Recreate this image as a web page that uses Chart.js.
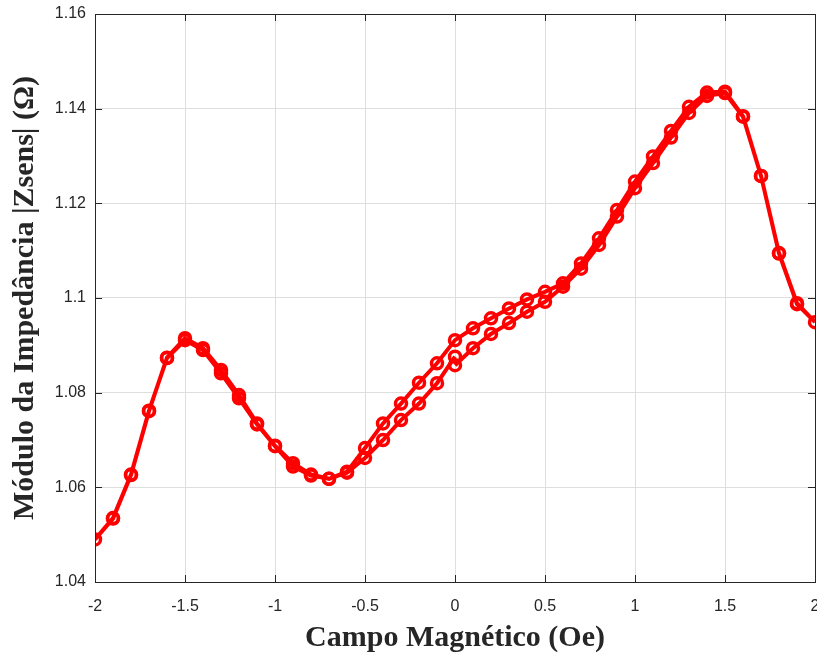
<!DOCTYPE html>
<html>
<head>
<meta charset="utf-8">
<script src="https://cdn.jsdelivr.net/npm/chart.js@4"></script>
<style>
  html, body { margin: 0; padding: 0; background: #fff; }
  #wrap { width: 817px; height: 656px; }
</style>
</head>
<body>
<div id="wrap"><canvas id="gmi" width="817" height="656"></canvas></div>
<script>
/* GMI curve — |Zsens| vs field, one full loop 0 -> 2 -> -2 -> 0 */

// sweep 1: 0 -> 2 Oe
const fieldUp = [0, 0.1, 0.2, 0.3, 0.4, 0.5, 0.6, 0.7, 0.8, 0.9, 1, 1.1, 1.2, 1.3, 1.4, 1.5, 1.6, 1.7, 1.8, 1.9, 2];
const zUp = [1.0858, 1.0894, 1.0924, 1.0947, 1.0971, 1.0992, 1.1024, 1.1062, 1.1112, 1.1172, 1.1232,
  1.1285, 1.1339, 1.1391, 1.1427, 1.1433, 1.1383, 1.1258, 1.1094, 1.0987, 1.0949];

// sweep 2: 2 -> -2 Oe
const fieldDown = [1.9, 1.8, 1.7, 1.6, 1.5, 1.4, 1.3, 1.2, 1.1, 1, 0.9, 0.8, 0.7, 0.6, 0.5, 0.4, 0.3, 0.2, 0.1, 0,
  -0.1, -0.2, -0.3, -0.4, -0.5, -0.6, -0.7, -0.8, -0.9, -1, -1.1, -1.2, -1.3, -1.4, -1.5, -1.6, -1.7, -1.8, -1.9, -2];
const zDown = [1.0989, 1.1095, 1.1258, 1.1384, 1.1436, 1.1434, 1.1404, 1.1353, 1.1299, 1.1246, 1.1186, 1.1126,
  1.1073, 1.1031, 1.1013, 1.0997, 1.0978, 1.0957, 1.0936, 1.0911, 1.0862, 1.0821, 1.0777, 1.0735, 1.0683,
  1.0633, 1.0618, 1.0627, 1.0651, 1.0688, 1.0735, 1.0795, 1.0848, 1.0894, 1.0915, 1.0874, 1.0761, 1.0626,
  1.0534, 1.0490];

// sweep 3: -2 -> 0 Oe
const fieldBack = [-1.9, -1.8, -1.7, -1.6, -1.5, -1.4, -1.3, -1.2, -1.1, -1, -0.9, -0.8, -0.7, -0.6, -0.5,
  -0.4, -0.3, -0.2, -0.1, 0];
const zBack = [1.0535, 1.0627, 1.0762, 1.0873, 1.0911, 1.0890, 1.0841, 1.0788, 1.0733, 1.0687, 1.0644,
  1.0625, 1.0618, 1.0631, 1.0662, 1.0700, 1.0742, 1.0777, 1.0820, 1.0876];

const xTicks = [-2, -1.5, -1, -0.5, 0, 0.5, 1, 1.5, 2];
const yTicks = [1.04, 1.06, 1.08, 1.1, 1.12, 1.14, 1.16];

const toPts = (xs, ys) => xs.map((x, i) => ({ x, y: ys[i] }));
const loop = [...toPts(fieldUp, zUp), ...toPts(fieldDown, zDown), ...toPts(fieldBack, zBack)];

const AXIS = '#262626';
const TICK_FONT = { family: 'Arial, "Liberation Sans", sans-serif', size: 16 };
const TITLE_FONT = { family: '"Times New Roman", "Liberation Serif", serif', size: 30, weight: 'bold' };

// MATLAB-style box with inward ticks on all four sides
const boxTicks = {
  id: 'boxTicks',
  afterDraw(chart) {
    const { ctx, chartArea: a, scales: { x, y } } = chart;
    const L = 7;
    ctx.save();
    ctx.strokeStyle = AXIS;
    ctx.lineWidth = 1;
    ctx.beginPath();
    xTicks.forEach(v => {
      const px = Math.round(x.getPixelForValue(v)) + 0.5;
      ctx.moveTo(px, a.bottom); ctx.lineTo(px, a.bottom - L);
      ctx.moveTo(px, a.top); ctx.lineTo(px, a.top + L);
    });
    yTicks.forEach(v => {
      const py = Math.round(y.getPixelForValue(v)) + 0.5;
      ctx.moveTo(a.left, py); ctx.lineTo(a.left + L, py);
      ctx.moveTo(a.right, py); ctx.lineTo(a.right - L, py);
    });
    ctx.stroke();
    ctx.strokeRect(Math.round(a.left) + 0.5, Math.round(a.top) + 0.5,
      Math.round(a.right - a.left), Math.round(a.bottom - a.top));
    ctx.restore();
  }
};

new Chart(document.getElementById('gmi'), {
  type: 'scatter',
  data: {
    datasets: [{
      data: loop,
      showLine: true,
      borderColor: '#ff0000',
      borderWidth: 4,
      pointStyle: 'circle',
      pointRadius: 5.5,
      pointBorderWidth: 3.5,
      pointBorderColor: '#ff0000',
      pointBackgroundColor: 'rgba(0,0,0,0)',
      tension: 0
    }]
  },
  options: {
    responsive: false,
    animation: false,
    layout: { autoPadding: false, padding: { top: 14, right: 2, left: 0, bottom: 0 } },
    plugins: { legend: { display: false }, tooltip: { enabled: false } },
    scales: {
      x: {
        type: 'linear', min: -2, max: 2,
        afterBuildTicks: s => { s.ticks = xTicks.map(v => ({ value: v })); },
        afterFit: s => { s.height = 74; s.paddingLeft = 0; s.paddingRight = 0; },
        ticks: { color: AXIS, font: TICK_FONT, padding: 15, maxRotation: 0, callback: v => String(v) },
        grid: { color: '#dedede', lineWidth: 1, drawTicks: false },
        border: { display: false },
        title: { display: true, text: 'Campo Magnético (Oe)', color: AXIS, font: TITLE_FONT, padding: { top: 3, bottom: 0 } }
      },
      y: {
        type: 'linear', min: 1.04, max: 1.16,
        afterBuildTicks: s => { s.ticks = yTicks.map(v => ({ value: v })); },
        afterFit: s => { s.width = 95; s.paddingTop = 0; s.paddingBottom = 0; },
        ticks: { color: AXIS, font: TICK_FONT, padding: 9, callback: v => String(parseFloat(v.toFixed(2))) },
        grid: { color: '#dedede', lineWidth: 1, drawTicks: false },
        border: { display: false },
        title: { display: true, text: 'Módulo da Impedância |Zsens| (Ω)', color: AXIS, font: TITLE_FONT, padding: { top: 7, bottom: 0 } }
      }
    }
  },
  plugins: [boxTicks]
});
</script>
</body>
</html>
